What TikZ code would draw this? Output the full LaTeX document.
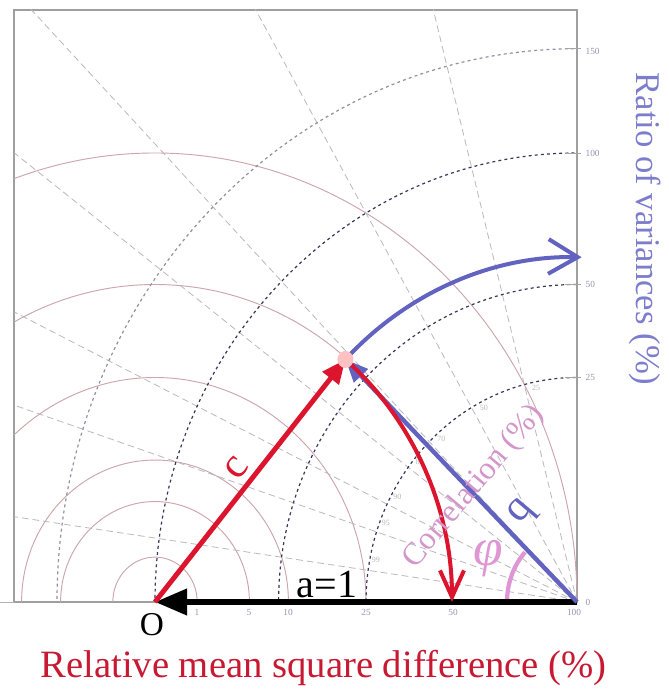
\documentclass[tikz,border=0pt]{standalone}
\usepackage{fontspec}
\setmainfont{Liberation Serif}
\usetikzlibrary{arrows.meta}
\definecolor{cred}{RGB}{220,20,45}
\definecolor{cblue}{RGB}{98,98,192}
\definecolor{cpink}{RGB}{222,150,212}
\definecolor{corrtxt}{RGB}{212,150,202}
\definecolor{gridred}{RGB}{205,165,172}
\definecolor{gridgray}{RGB}{185,185,190}
\definecolor{varcol}{RGB}{55,55,90}
\definecolor{lblred}{RGB}{200,25,50}
\definecolor{lblblue}{RGB}{125,125,205}
\definecolor{ticklbl}{RGB}{150,150,175}
\begin{document}
\begin{tikzpicture}[x=0.75pt,y=0.75pt,
  rmsd/.style={gridred, line width=0.7pt},
  varc/.style={varcol, line width=0.9pt, dash pattern=on 2.2pt off 2.4pt},
  corr/.style={gridgray, line width=0.6pt, dash pattern=on 5pt off 3pt},
  ticklab/.style={ticklbl, font=\fontsize{7}{8}\selectfont, inner sep=1pt},
  corrlab/.style={gridgray, font=\fontsize{6}{7}\selectfont, inner sep=0pt},
  biglab/.style={inner sep=0pt},
]
\fill[white] (0,0) rectangle (668,691);
\useasboundingbox (0,0) rectangle (668,691);
% frame
\draw[gray!75, line width=0.8pt] (14,681) rectangle (577,89);
\draw[gray!60, line width=0.6pt] (0,89) -- (14,89);
\begin{scope}[shift={(155,89)}, yscale=1.064]
  \coordinate (O) at (0,0);
  \coordinate (R) at (422,0);
  \coordinate (P) at (190.4,227.9);
  \begin{scope}
    \clip (-141,0) rectangle (422,556.4);
    \foreach \r in {42.2,94.4,133.4,211,298.4,422} \draw[rmsd] (O) circle (\r);
    \foreach \c in {0.25,0.5,0.7,0.8,0.9,0.95,0.99} \draw[corr] (R) -- ++({180-acos(\c)}:900);
    \foreach \r in {211,298.4,422} \draw[varc] (R) circle (\r);
    \draw[varc, varcol!55] (R) circle (520);
  \end{scope}
  % right-axis ticks
  \foreach \r in {211,298.4,422,520} \draw[gray!70, line width=0.6pt] (410,\r) -- (426,\r);
  % correlation labels
  \foreach \c/\t in {0.25/25,0.5/50,0.7/70,0.8/80,0.9/90,0.95/95,0.99/99}
    \path (R) ++({177-acos(\c)}:205) node[corrlab] {\t};
  % pink angle arc
  \draw[cpink, line width=3.2pt] (R) ++(180:70) arc[start angle=180, end angle=138, radius=70];
  % vectors
  \draw[line width=4.5pt, -{Triangle[length=24pt,width=19pt]}] (R) -- (O);
  \draw[cred, line width=3.7pt, -{Triangle[length=18pt,width=15pt]}] (O) -- (P);
  \draw[cblue, line width=3.3pt, -{Triangle[length=17pt,width=14pt]}] (R) -- (P);
  \draw[cred, line width=3pt, -{Straight Barb[length=20pt,width=18pt]}] (P) arc[start angle=50.12, end angle=0, radius=297];
  \draw[cblue, line width=3pt, -{Straight Barb[length=22pt,width=26pt]}] (P) arc[start angle=135.46, end angle=88.8, radius=322];
  \fill[pink!80!red!60] (P) circle[radius=6pt];
\end{scope}
% axis tick labels
\foreach \x/\t in {197/1,249/5,288/10,366/25,453/50,574/100} \node[ticklab] at (\x,79) {\t};
\foreach \y/\t in {89/0,313.5/25,406.5/50,538/100,640/150} \node[ticklab, anchor=west] at (584,\y) {\t};
% labels
\node[biglab, font=\fontsize{25}{26}\selectfont] (lO) at (152,66) {O};
\node[biglab, anchor=base, font=\fontsize{30}{31}\selectfont] (la) at (327,93) {a=1};
\node[biglab, cred, rotate=52, font=\fontsize{32}{33}\selectfont] (lc) at (237,223) {c};
\node[biglab, cblue, rotate=-130, font=\fontsize{32}{33}\selectfont] (lb) at (523,178) {b};
\node[biglab, corrtxt, rotate=50, font=\fontsize{24}{25}\selectfont] (lcorr) at (474,204) {Correlation (\%)};
\node[biglab, cpink, font=\fontsize{40}{41}\selectfont\itshape] (lphi) at (488,132) {φ};
\node[biglab, lblred, anchor=base, font=\fontsize{29}{30}\selectfont] (lx) at (323.5,13) {Relative mean square difference (\%)};
\node[biglab, lblblue, rotate=-90, font=\fontsize{26}{27}\selectfont] (ly) at (645,462) {Ratio of variances (\%)};
\end{tikzpicture}
\end{document}
